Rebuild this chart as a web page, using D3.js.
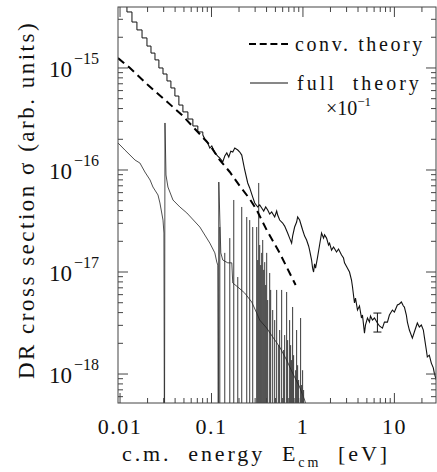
<!DOCTYPE html>
<html>
<head>
<meta charset="utf-8">
<script src="https://cdn.jsdelivr.net/npm/d3@7"></script>
<style>
body { margin: 0; background: #fff; }
text { font-family: "Liberation Serif", "Times New Roman", serif; fill: #111; }
</style>
</head>
<body>
<div id="chart"></div>
<script>
// energy [eV], cross section (arb. units)
const expSteps = [
  [0.0095, 5.2e-15], [0.0119, 3.54e-15], [0.0135, 2.82e-15], [0.0153, 2.36e-15],
  [0.0174, 1.97e-15], [0.0197, 1.64e-15], [0.0218, 1.40e-15], [0.0241, 1.20e-15],
  [0.0266, 1.00e-15], [0.0295, 8.73e-16], [0.0326, 7.46e-16], [0.0360, 6.37e-16],
  [0.0398, 5.31e-16], [0.0440, 4.33e-16], [0.0487, 3.71e-16], [0.0552, 3.16e-16],
  [0.0626, 2.70e-16], [0.0709, 2.36e-16]
];

const expData = [
  [0.0804, 2.20e-16], [0.0846, 2.01e-16], [0.0889, 1.92e-16], [0.0959, 1.64e-16],
  [0.1008, 1.72e-16], [0.1088, 1.47e-16], [0.1172, 1.37e-16], [0.1233, 1.31e-16],
  [0.1329, 1.20e-16], [0.1397, 1.37e-16], [0.147, 1.47e-16], [0.1545, 1.34e-16],
  [0.1625, 1.53e-16], [0.1709, 1.50e-16], [0.1797, 1.64e-16], [0.1938, 1.57e-16],
  [0.2037, 1.50e-16], [0.2142, 1.40e-16], [0.2309, 1.00e-16], [0.249, 7.46e-17],
  [0.2618, 6.67e-17], [0.2824, 5.43e-17], [0.297, 4.75e-17], [0.3202, 4.34e-17],
  [0.3367, 4.54e-17], [0.354, 4.24e-17], [0.3723, 3.96e-17], [0.3915, 4.34e-17],
  [0.4117, 4.05e-17], [0.4329, 3.70e-17], [0.4551, 3.88e-17], [0.4909, 3.46e-17],
  [0.5161, 3.96e-17], [0.5292, 3.62e-17], [0.5564, 3.23e-17], [0.600, 3.02e-17],
  [0.631, 2.82e-17], [0.680, 2.41e-17], [0.715, 2.15e-17], [0.752, 1.92e-17],
  [0.771, 2.25e-17], [0.811, 2.76e-17], [0.853, 3.09e-17], [0.875, 3.46e-17],
  [0.920, 3.23e-17], [0.992, 2.58e-17], [1.043, 2.25e-17], [1.096, 2.06e-17],
  [1.153, 1.80e-17], [1.182, 1.64e-17], [1.243, 1.31e-17], [1.275, 1.09e-17],
  [1.307, 1.00e-17], [1.340, 1.20e-17], [1.374, 1.09e-17], [1.445, 1.40e-17],
  [1.520, 1.84e-17], [1.598, 2.41e-17], [1.680, 2.15e-17], [1.723, 2.31e-17],
  [1.812, 2.15e-17], [1.905, 1.84e-17], [1.954, 1.92e-17], [2.055, 1.64e-17],
  [2.161, 1.76e-17], [2.330, 1.57e-17], [2.449, 1.68e-17], [2.642, 1.47e-17],
  [2.777, 1.37e-17], [2.848, 1.23e-17], [3.070, 1.09e-17], [3.229, 1.00e-17],
  [3.395, 8.35e-18], [3.483, 7.13e-18], [3.569, 5.95e-18], [3.661, 4.97e-18],
  [3.754, 5.56e-18], [3.948, 4.24e-18], [4.150, 4.64e-18], [4.365, 3.54e-18],
  [4.475, 3.79e-18], [4.707, 2.52e-18], [4.826, 3.02e-18], [5.076, 3.54e-18],
  [5.336, 3.23e-18], [5.472, 3.70e-18], [5.754, 3.38e-18], [6.049, 3.54e-18],
  [6.524, 3.16e-18], [6.861, 2.96e-18], [7.397, 2.82e-18], [7.778, 3.23e-18],
  [8.387, 3.23e-18], [8.819, 3.79e-18], [9.510, 4.24e-18], [10.0, 4.05e-18],
  [10.78, 4.75e-18], [11.34, 4.86e-18], [11.92, 5.08e-18], [12.54, 4.64e-18],
  [12.86, 4.54e-18], [13.51, 3.79e-18], [13.87, 3.23e-18], [14.57, 2.70e-18],
  [15.72, 2.25e-18], [16.52, 2.58e-18], [17.82, 3.16e-18], [18.73, 2.89e-18],
  [19.71, 3.02e-18], [20.72, 2.70e-18], [21.25, 2.31e-18], [22.34, 1.72e-18],
  [22.91, 1.47e-18], [24.08, 1.53e-18], [25.33, 1.28e-18], [26.63, 1.15e-18],
  [27.32, 1.02e-18], [28.72, 8.74e-19]
];

// [energy, low, high]
const expErrors = [[6.52, 2.58e-18, 3.96e-18]];

const convTheory = [
  [0.0095, 1.25e-15], [0.01285, 1.00e-15], [0.0202, 6.81e-16], [0.031, 4.86e-16],
  [0.0475, 3.46e-16], [0.0692, 2.41e-16], [0.0959, 1.76e-16], [0.1233, 1.25e-16],
  [0.1585, 9.56e-17], [0.2037, 6.97e-17], [0.2618, 5.20e-17], [0.3122, 4.05e-17],
  [0.4015, 2.58e-17], [0.5564, 1.54e-17], [0.7153, 9.78e-18], [0.8318, 7.46e-18]
];

// full theory x 0.1, with the two Fano shaped resonances in the curve
const fullTheory = [
  [0.0095, 1.84e-16], [0.0113, 1.57e-16], [0.0146, 1.25e-16], [0.0165, 1.17e-16],
  [0.0187, 9.56e-17], [0.0213, 7.98e-17], [0.0229, 6.81e-17], [0.0260, 5.69e-17],
  [0.0273, 4.75e-17], [0.0295, 3.23e-17], [0.0302, 2.41e-17], [0.0306, 1e-19],
  [0.0310, 2.89e-16], [0.0318, 8.93e-17], [0.0334, 6.81e-17], [0.0379, 5.08e-17],
  [0.0451, 4.34e-17], [0.0538, 3.79e-17], [0.0746, 2.76e-17], [0.0959, 1.92e-17],
  [0.1088, 1.54e-17], [0.1143, 1.25e-17], [0.1172, 1.17e-17], [0.1187, 1e-19],
  [0.1202, 7.62e-17], [0.1264, 1.54e-17], [0.1329, 1.31e-17], [0.1507, 1.23e-17],
  [0.1667, 1.23e-17], [0.1709, 7.80e-18], [0.1938, 7.13e-18], [0.2309, 6.22e-18],
  [0.2754, 5.08e-18], [0.3122, 3.96e-18], [0.3367, 3.38e-18], [0.4015, 2.82e-18],
  [0.4668, 2.31e-18], [0.5564, 1.84e-18], [0.6634, 1.37e-18], [0.7714, 1.02e-18],
  [0.9196, 7.46e-19], [1.043, 5.56e-19], [1.124, 4.4e-19]
];

// narrow resonances of the full theory: [energy, peak]
const resonances = [
  [0.1233, 2.76e-17], [0.1397, 1.54e-17], [0.1585, 2.15e-17], [0.1752, 5.08e-17],
  [0.1938, 8.93e-18], [0.2142, 4.34e-17], [0.2429, 3.46e-17], [0.2618, 3.23e-17],
  [0.2824, 2.76e-17], [0.3122, 2.76e-17], [0.3202, 1.31e-17], [0.3283, 7.46e-17],
  [0.3367, 1.84e-17], [0.3452, 1.17e-17], [0.354, 1.54e-17], [0.3631, 2.06e-17],
  [0.3723, 1.05e-17], [0.3818, 1.25e-17], [0.3915, 7.46e-18], [0.4015, 1.54e-17],
  [0.4117, 5.31e-18], [0.4329, 9.78e-18], [0.4438, 6.67e-18], [0.4668, 4.24e-18],
  [0.4909, 3.38e-18], [0.5161, 6.67e-18], [0.5426, 1.92e-18], [0.5564, 2.70e-18],
  [0.5851, 6.67e-18], [0.6152, 1.72e-18], [0.631, 2.41e-18], [0.6634, 6.37e-18],
  [0.6803, 2.15e-18], [0.7153, 3.38e-18], [0.7334, 1.92e-18], [0.7522, 1.37e-18],
  [0.7714, 4.54e-18], [0.7907, 1.53e-18], [0.8318, 1.09e-18], [0.8529, 2.70e-18],
  [0.8746, 1.22e-18], [0.8969, 8.74e-19], [0.943, 3.54e-18], [0.9669, 7.80e-19],
  [0.9917, 1.09e-18], [1.017, 6.97e-19]
];

const xTickValues = [0.01, 0.1, 1, 10];
const xTickLabels = ["0.01", "0.1", "1", "10"];
const yTickValues = [1e-18, 1e-17, 1e-16, 1e-15];
const yTickExponents = ["\u221218", "\u221217", "\u221216", "\u221215"];

const width = 437, height = 472,
    margin = ({ top: 7, right: 1, bottom: 69, left: 118 });

const svg = d3.select("#chart")
    .append("svg")
    .attr("width", width)
    .attr("height", height);

const x = d3.scaleLog()
    .domain([0.0095, 28.5])
    .range([margin.left, width - margin.right]);

const y = d3.scaleLog()
    .domain([5.2e-19, 3.96e-15])
    .range([height - margin.bottom, margin.top]);

const isMajor = d => Math.abs(Math.log10(d) - Math.round(Math.log10(d))) < 1e-6;

svg.append("clipPath").attr("id", "clip")
  .append("rect")
    .attr("x", margin.left)
    .attr("y", margin.top)
    .attr("width", width - margin.right - margin.left)
    .attr("height", height - margin.bottom - margin.top);

const plot = svg.append("g").attr("clip-path", "url(#clip)");

// resonance lines
plot.append("g")
    .selectAll("line")
    .data(resonances)
    .join("line")
    .attr("x1", d => x(d[0]))
    .attr("x2", d => x(d[0]))
    .attr("y1", y.range()[0])
    .attr("y2", d => y(d[1]))
    .attr("stroke", "#222")
    .attr("stroke-width", 0.9);

let line = d3.line()
    .x(d => x(d[0]))
    .y(d => y(d[1]));

plot.append("path")
    .datum(fullTheory)
    .attr("d", line)
    .attr("fill", "none")
    .attr("stroke", "#222")
    .attr("stroke-width", 0.8);

plot.append("path")
    .datum(expSteps.concat([expData[0]]))
    .attr("d", line.curve(d3.curveStepAfter))
    .attr("fill", "none")
    .attr("stroke", "#111")
    .attr("stroke-width", 1);

line.curve(d3.curveLinear);

plot.append("path")
    .datum(expData)
    .attr("d", line)
    .attr("fill", "none")
    .attr("stroke", "#111")
    .attr("stroke-width", 1.1);

const err = plot.append("g")
    .selectAll("g")
    .data(expErrors)
    .join("g")
    .attr("stroke", "#111")
    .attr("stroke-width", 1);
err.append("line")
    .attr("x1", d => x(d[0])).attr("x2", d => x(d[0]))
    .attr("y1", d => y(d[1])).attr("y2", d => y(d[2]));
err.append("line")
    .attr("x1", d => x(d[0]) - 4).attr("x2", d => x(d[0]) + 4)
    .attr("y1", d => y(d[1])).attr("y2", d => y(d[1]));
err.append("line")
    .attr("x1", d => x(d[0]) - 4).attr("x2", d => x(d[0]) + 4)
    .attr("y1", d => y(d[2])).attr("y2", d => y(d[2]));

plot.append("path")
    .datum(convTheory)
    .attr("d", line)
    .attr("fill", "none")
    .attr("stroke", "#000")
    .attr("stroke-width", 2)
    .attr("stroke-dasharray", "8,5");

// frame and inward ticks on all sides
const x0 = x.range()[0], x1 = x.range()[1], y0 = y.range()[0], y1 = y.range()[1];

svg.append("rect")
    .attr("x", x0).attr("y", y1)
    .attr("width", x1 - x0).attr("height", y0 - y1)
    .attr("fill", "none")
    .attr("stroke", "#444")
    .attr("stroke-width", 1);

const xt = x.ticks(), yt = y.ticks();
const tickG = svg.append("g").attr("stroke", "#444").attr("stroke-width", 1);

tickG.selectAll(".xb").data(xt).join("line")
    .attr("x1", d => x(d)).attr("x2", d => x(d))
    .attr("y1", y0).attr("y2", d => y0 - (isMajor(d) ? 10 : 5));
tickG.selectAll(".xt").data(xt).join("line")
    .attr("x1", d => x(d)).attr("x2", d => x(d))
    .attr("y1", y1).attr("y2", d => y1 + (isMajor(d) ? 10 : 5));
tickG.selectAll(".yl").data(yt).join("line")
    .attr("y1", d => y(d)).attr("y2", d => y(d))
    .attr("x1", x0).attr("x2", d => x0 + (isMajor(d) ? 10 : 5));
tickG.selectAll(".yr").data(yt).join("line")
    .attr("y1", d => y(d)).attr("y2", d => y(d))
    .attr("x1", x1).attr("x2", d => x1 - (isMajor(d) ? 10 : 5));

// tick labels
svg.append("g")
    .selectAll("text")
    .data(xTickValues)
    .join("text")
    .attr("x", d => x(d))
    .attr("y", 434)
    .attr("text-anchor", "middle")
    .attr("font-size", 22)
    .attr("letter-spacing", 1.5)
    .text((d, i) => xTickLabels[i]);

const yl = svg.append("g")
    .selectAll("text")
    .data(yTickValues)
    .join("text")
    .attr("x", 99)
    .attr("y", d => y(d) + 9)
    .attr("text-anchor", "end")
    .attr("font-size", 23);
yl.append("tspan").text("10");
yl.append("tspan")
    .attr("dy", -13)
    .attr("dx", 2)
    .attr("font-size", 16)
    .text((d, i) => yTickExponents[i]);

// axis titles
const xTitle = svg.append("text")
    .attr("x", 122)
    .attr("y", 461)
    .attr("font-size", 22)
    .attr("letter-spacing", 2.9)
    .style("white-space", "pre");
xTitle.append("tspan").text("c.m.  energy  E");
xTitle.append("tspan").attr("font-size", 14).attr("dy", 6).text("cm");
xTitle.append("tspan").attr("dy", -6).text("  [eV]");

svg.append("text")
    .attr("transform", "translate(34,200) rotate(-90)")
    .attr("text-anchor", "middle")
    .attr("font-size", 23)
    .attr("letter-spacing", 2.5)
    .style("white-space", "pre")
    .text("DR cross section \u03c3 (arb. units)");

// legend
const legend = svg.append("g");
legend.append("line")
    .attr("x1", 249).attr("x2", 288).attr("y1", 44).attr("y2", 44)
    .attr("stroke", "#000").attr("stroke-width", 2)
    .attr("stroke-dasharray", "7,3.7");
legend.append("text")
    .attr("x", 295).attr("y", 51)
    .attr("font-size", 20).attr("letter-spacing", 2.6)
    .text("conv. theory");
legend.append("line")
    .attr("x1", 250).attr("x2", 288).attr("y1", 83).attr("y2", 83)
    .attr("stroke", "#111").attr("stroke-width", 1);
legend.append("text")
    .attr("x", 297).attr("y", 90)
    .attr("font-size", 20).attr("letter-spacing", 3)
    .style("white-space", "pre")
    .text("full  theory");
const mult = legend.append("text")
    .attr("x", 326).attr("y", 115)
    .attr("font-size", 20);
mult.append("tspan").text("\u00d710");
mult.append("tspan").attr("dy", -9).attr("font-size", 13).text("\u22121");
</script>
</body>
</html>
